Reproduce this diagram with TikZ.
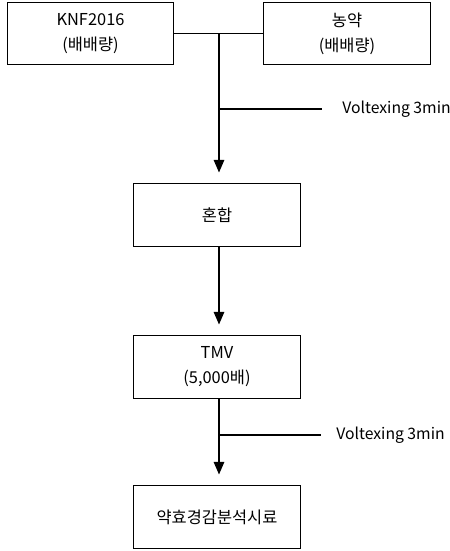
\documentclass[tikz,border=0pt]{standalone}
\usepackage{fontspec}
\setmainfont{Noto Sans CJK KR}
\usetikzlibrary{arrows.meta}

\tikzset{
    stepbox/.style={draw, line width=0.8pt, minimum width=125pt, minimum height=47pt,
        align=center, inner sep=0pt},
    flow/.style={line width=0.8pt},
    flowarrow/.style={flow, -{Triangle[length=9.5pt,width=8pt]}, shorten >=8pt},
    sidenote/.style={anchor=west, inner sep=0pt, font=\fontsize{11.8}{14}\selectfont}
}

\begin{document}
\begin{tikzpicture}[x=0.75pt, y=-0.75pt, every node/.style={font=\fontsize{12.3}{18.8}\selectfont}]
    % Page frame
    \useasboundingbox (0,0) rectangle (450,551);

    % Boxes
    \node[stepbox] (knf) at (90.5,33.5) {KNF2016\\(배배량)};
    \node[stepbox] (pesticide) at (347,33.5) {농약\\(배배량)};
    \node[stepbox] (mix) at (217,215) {혼합};
    \node[stepbox] (tmv) at (217,367) {TMV\\(5,000배)};
    \node[stepbox] (sample) at (217,517) {약효경감분석시료};

    % Joining line of the two top boxes
    \draw[flow] (knf.east) -- (pesticide.west);
    \coordinate (join) at (219,33.5);
    \coordinate (vortexA) at (219,109);
    \coordinate (vortexB) at (219,435);

    % Voltexing labels
    \node[sidenote] (labelA) at (342,109) {Voltexing 3min};
    \node[sidenote] (labelB) at (336,435) {Voltexing 3min};
    \draw[flow] (vortexA) -- ([xshift=-15pt]labelA.west);
    \draw[flow] (vortexB) -- ([xshift=-11pt]labelB.west);

    % Arrows down
    \draw[flowarrow] (join) -- (join |- mix.north);
    \draw[flowarrow] (mix.south -| join) -- (join |- tmv.north);
    \draw[flowarrow] (tmv.south -| join) -- (join |- sample.north);
\end{tikzpicture}
\end{document}
